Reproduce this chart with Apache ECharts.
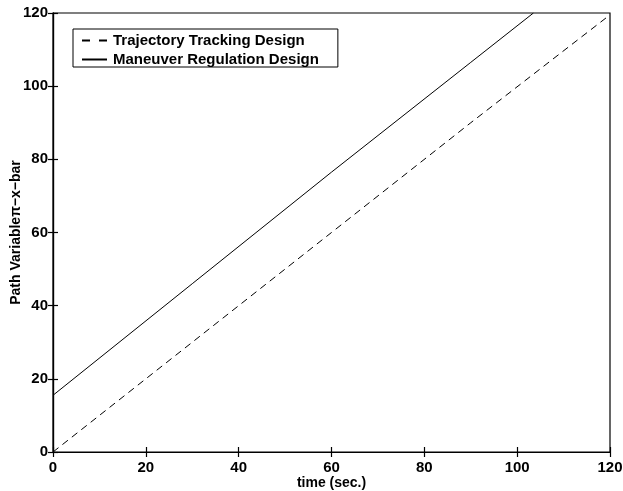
<!DOCTYPE html>
<html>
<head>
<meta charset="utf-8">
<script src="https://cdn.jsdelivr.net/npm/echarts@6/dist/echarts.min.js"></script>
<style>
  html, body { margin: 0; padding: 0; background: #fff; }
  #chart { width: 623px; height: 491px; }
</style>
</head>
<body>
<div id="chart"></div>
<script>
// Path variable versus time for the two controller designs
const seriesNames = ['Trajectory Tracking Design', 'Maneuver Regulation Design'];
const trackingData = [[0, 0], [30, 30], [60, 60], [90, 90], [120, 119.5]];
const regulationData = [[0, 15.5], [30, 46], [60, 76.5], [90, 106.5], [103.5, 120]];
const xTicks = [0, 20, 40, 60, 80, 100, 120];
const yTicks = [0, 20, 40, 60, 80, 100, 120];

const font = 'Liberation Sans, Arial, Helvetica, sans-serif';

const baseAxis = {
  min: 0, max: 120, interval: 20,
  axisLine: { show: true, lineStyle: { color: '#000', width: 1.2 } },
  axisTick: { show: true, inside: true, length: 5, lineStyle: { color: '#000', width: 1.2 } },
  splitLine: { show: false }
};

const chart = echarts.init(document.getElementById('chart'));
chart.setOption({
  backgroundColor: '#fff',
  animation: false,
  grid: { left: 53, right: 13, top: 13, bottom: 39, outerBoundsMode: 'none',
    show: true, borderColor: '#000', borderWidth: 1.2 },
  legend: {
    orient: 'vertical',
    left: 73, top: 29,
    data: [
      { name: seriesNames[0], lineStyle: { type: [8, 9] } },
      { name: seriesNames[1] }
    ],
    itemWidth: 25, itemHeight: 14, itemGap: 4,
    padding: [4, 19, 0, 8],
    borderColor: '#000', borderWidth: 1, borderRadius: 0,
    itemStyle: { opacity: 0 },
    textStyle: { fontFamily: font, fontWeight: 'bold', fontSize: 15, color: '#000', padding: [0, 0, 0, 1] }
  },
  xAxis: [
    Object.assign({}, baseAxis, {
      type: 'value', position: 'bottom',
      name: 'time (sec.)', nameLocation: 'middle', nameGap: 24, nameMoveOverlap: false,
      nameTextStyle: { fontFamily: font, fontWeight: 'bold', fontSize: 14, color: '#000' },
      axisLabel: { fontFamily: font, fontWeight: 'bold', fontSize: 15, color: '#000', margin: 8,
        formatter: v => xTicks.includes(v) ? String(v) : '' }
    }),
    Object.assign({}, baseAxis, {
      type: 'value', position: 'top', axisLabel: { show: false }
    })
  ],
  yAxis: [
    Object.assign({}, baseAxis, {
      type: 'value', position: 'left',
      name: 'Path Variable\u03c0\u2212x\u2212bar', nameLocation: 'middle', nameGap: 30, nameMoveOverlap: false,
      nameTextStyle: { fontFamily: font, fontWeight: 'bold', fontSize: 14, color: '#000' },
      axisLabel: { fontFamily: font, fontWeight: 'bold', fontSize: 15, color: '#000', margin: 5,
        formatter: v => yTicks.includes(v) ? String(v) : '' }
    }),
    Object.assign({}, baseAxis, {
      type: 'value', position: 'right', axisLabel: { show: false }
    })
  ],
  series: [
    {
      name: seriesNames[0], type: 'line', data: trackingData,
      showSymbol: false, symbol: 'none',
      lineStyle: { color: '#000', width: 1, type: [7, 5] },
      itemStyle: { color: '#000' }
    },
    {
      name: seriesNames[1], type: 'line', data: regulationData,
      showSymbol: false, symbol: 'none',
      lineStyle: { color: '#000', width: 1, type: 'solid' },
      itemStyle: { color: '#000' }
    }
  ]
});
</script>
</body>
</html>
